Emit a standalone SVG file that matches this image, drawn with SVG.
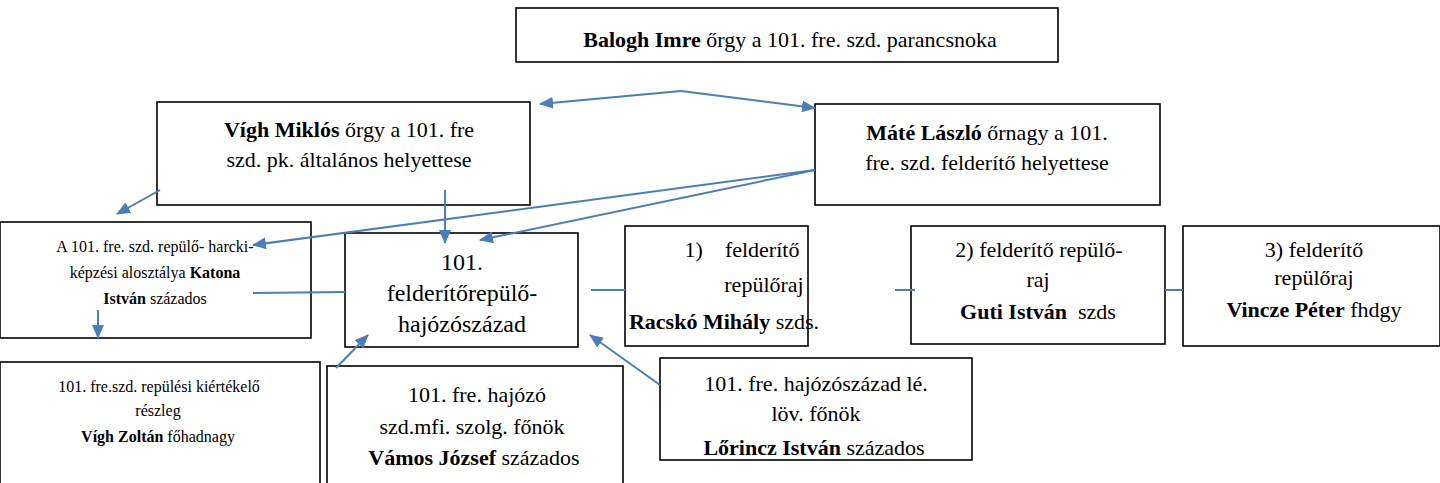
<svg xmlns="http://www.w3.org/2000/svg" width="1440" height="483" viewBox="0 0 1440 483">
<style>
.box{fill:#ffffff;stroke:#000000;stroke-width:1.6}
.t{font-family:"Liberation Serif","Times New Roman",serif;fill:#000000;text-anchor:middle}
.b{font-weight:bold}
.c{fill:none;stroke:#4a7ebb;stroke-width:2}
</style>
<defs>
<marker id="arrow" viewBox="0 0 14 12" refX="13" refY="6" markerWidth="14" markerHeight="12" markerUnits="userSpaceOnUse" orient="auto">
<path d="M0,0 L14,6 L0,12 z" fill="#4a7ebb"/>
</marker>
</defs>
<rect x="0" y="0" width="1440" height="483" fill="#ffffff"/>
<g id="node-balogh">
<rect class="box" x="516" y="8" width="542" height="54"/>
<text class="t" x="790" y="47" font-size="22"><tspan class="b">Balogh Imre</tspan> őrgy a 101. fre. szd. parancsnoka</text>
</g>
<g id="node-vigh-miklos">
<rect class="box" x="157" y="102" width="373" height="103"/>
<text class="t" x="349" y="137" font-size="22"><tspan class="b">Vígh Miklós</tspan> őrgy a 101. fre</text>
<text class="t" x="349" y="167" font-size="22">szd. pk. általános helyettese</text>
</g>
<g id="node-mate">
<rect class="box" x="815" y="104" width="345" height="101"/>
<text class="t" x="987" y="140" font-size="22"><tspan class="b">Máté László</tspan> őrnagy a 101.</text>
<text class="t" x="987" y="170" font-size="22">fre. szd. felderítő helyettese</text>
</g>
<g id="node-katona">
<rect class="box" x="0" y="222" width="311" height="116"/>
<text class="t" x="155" y="252" font-size="16">A 101. fre. szd. repülő- harcki-</text>
<text class="t" x="155" y="278" font-size="16">képzési alosztálya <tspan class="b">Katona</tspan></text>
<text class="t" x="155" y="304" font-size="16"><tspan class="b">István</tspan> százados</text>
</g>
<g id="node-101">
<rect class="box" x="345" y="233" width="233" height="114"/>
<text class="t" x="462" y="270" font-size="24">101.</text>
<text class="t" x="462" y="301" font-size="24">felderítőrepülő-</text>
<text class="t" x="462" y="332" font-size="24">hajózószázad</text>
</g>
<g id="node-raj1">
<rect class="box" x="625" y="226" width="183" height="120"/>
<text class="t" x="742" y="257" font-size="22" xml:space="preserve">1)    felderítő</text>
<text class="t" x="764" y="292" font-size="22">repülőraj</text>
<text class="t" x="724" y="329" font-size="22"><tspan class="b">Racskó Mihály</tspan> szds.</text>
</g>
<g id="node-raj2">
<rect class="box" x="911" y="226" width="254" height="118"/>
<text class="t" x="1039" y="257" font-size="22">2) felderítő repülő-</text>
<text class="t" x="1038" y="287" font-size="22">raj</text>
<text class="t" x="1038" y="319" font-size="22" xml:space="preserve"><tspan class="b">Guti István</tspan>  szds</text>
</g>
<g id="node-raj3">
<rect class="box" x="1183" y="226" width="257" height="120"/>
<text class="t" x="1314" y="257" font-size="22">3) felderítő</text>
<text class="t" x="1314" y="285" font-size="22">repülőraj</text>
<text class="t" x="1314" y="317" font-size="22"><tspan class="b">Vincze Péter</tspan> fhdgy</text>
</g>
<g id="node-vigh-zoltan">
<rect class="box" x="0" y="362" width="320" height="125"/>
<text class="t" x="159" y="392" font-size="16">101. fre.szd. repülési kiértékelő</text>
<text class="t" x="158" y="416" font-size="16">részleg</text>
<text class="t" x="158" y="442" font-size="16"><tspan class="b">Vígh Zoltán</tspan> főhadnagy</text>
</g>
<g id="node-vamos">
<rect class="box" x="327" y="366" width="296" height="120"/>
<text class="t" x="477" y="402" font-size="22">101. fre. hajózó</text>
<text class="t" x="472" y="434" font-size="22">szd.mfi. szolg. főnök</text>
<text class="t" x="474" y="465" font-size="22"><tspan class="b">Vámos József</tspan> százados</text>
</g>
<g id="node-lorincz">
<rect class="box" x="660" y="358" width="312" height="102"/>
<text class="t" x="816" y="391" font-size="22">101. fre. hajózószázad lé.</text>
<text class="t" x="816" y="421" font-size="22">löv. főnök</text>
<text class="t" x="814" y="455" font-size="22"><tspan class="b">Lőrincz István</tspan> százados</text>
</g>
<g id="connectors">
<line class="c" x1="681" y1="91" x2="815" y2="108" marker-end="url(#arrow)"/>
<line class="c" x1="681" y1="91" x2="540" y2="104" marker-end="url(#arrow)"/>
<line class="c" x1="160" y1="190" x2="117" y2="214" marker-end="url(#arrow)"/>
<line class="c" x1="445" y1="190" x2="445" y2="243" marker-end="url(#arrow)"/>
<line class="c" x1="815" y1="170" x2="253" y2="245" marker-end="url(#arrow)"/>
<line class="c" x1="815" y1="170" x2="480" y2="240" marker-end="url(#arrow)"/>
<line class="c" x1="253" y1="293" x2="345" y2="292"/>
<line class="c" x1="98" y1="310" x2="98" y2="338" marker-end="url(#arrow)"/>
<line class="c" x1="591" y1="290" x2="625" y2="290"/>
<line class="c" x1="895" y1="290" x2="915" y2="290"/>
<line class="c" x1="1165" y1="290" x2="1183" y2="290"/>
<line class="c" x1="336" y1="368" x2="368" y2="335" marker-end="url(#arrow)"/>
<line class="c" x1="660" y1="385" x2="590" y2="335" marker-end="url(#arrow)"/>
</g>
</svg>
